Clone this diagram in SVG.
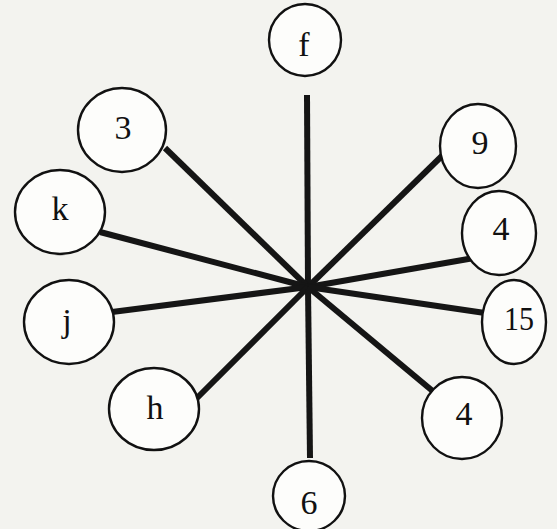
<svg xmlns="http://www.w3.org/2000/svg" width="557" height="529" viewBox="0 0 557 529">
<style>
.n ellipse{fill:#fdfdfb;stroke:#111;stroke-width:2.4}
.n text{font-family:"Liberation Serif","Times New Roman",serif;font-size:34px;fill:#111;text-anchor:middle;dominant-baseline:central}
.e line{stroke:#151515;stroke-width:6;stroke-linecap:butt}
</style>
<rect width="557" height="529" fill="#f3f3ef"/>
<g class="e" id="connectors">
<line x1="307" y1="95" x2="308" y2="287"/>
<line x1="165" y1="148" x2="308" y2="287"/>
<line x1="100" y1="232" x2="308" y2="287"/>
<line x1="112" y1="312" x2="308" y2="287"/>
<line x1="197" y1="398" x2="308" y2="287"/>
<line x1="310" y1="458" x2="308" y2="287"/>
<line x1="448" y1="150" x2="308" y2="287"/>
<line x1="474" y1="258" x2="308" y2="287"/>
<line x1="485" y1="313" x2="308" y2="287"/>
<line x1="435" y1="393" x2="308" y2="287"/>
</g>
<g class="n" id="node-f"><ellipse cx="305" cy="40" rx="36" ry="36"/><text x="304" y="44">f</text></g>
<g class="n" id="node-3"><ellipse cx="122" cy="130" rx="44" ry="42"/><text x="123" y="127">3</text></g>
<g class="n" id="node-k"><ellipse cx="60" cy="212" rx="45" ry="42"/><text x="60" y="208">k</text></g>
<g class="n" id="node-j"><ellipse cx="69" cy="322" rx="45" ry="42"/><text x="67" y="320">j</text></g>
<g class="n" id="node-h"><ellipse cx="154" cy="409" rx="45" ry="41"/><text x="155" y="407">h</text></g>
<g class="n" id="node-6"><ellipse cx="309" cy="496" rx="36" ry="35"/><text x="309" y="502">6</text></g>
<g class="n" id="node-9"><ellipse cx="478" cy="146" rx="38" ry="42"/><text x="480" y="142">9</text></g>
<g class="n" id="node-4a"><ellipse cx="499" cy="233" rx="37" ry="42"/><text x="501" y="228">4</text></g>
<g class="n" id="node-15"><ellipse cx="514" cy="322" rx="32" ry="42"/><text x="519" y="318" textLength="30" lengthAdjust="spacingAndGlyphs">15</text></g>
<g class="n" id="node-4b"><ellipse cx="462" cy="418" rx="40" ry="41"/><text x="464" y="413">4</text></g>
</svg>
